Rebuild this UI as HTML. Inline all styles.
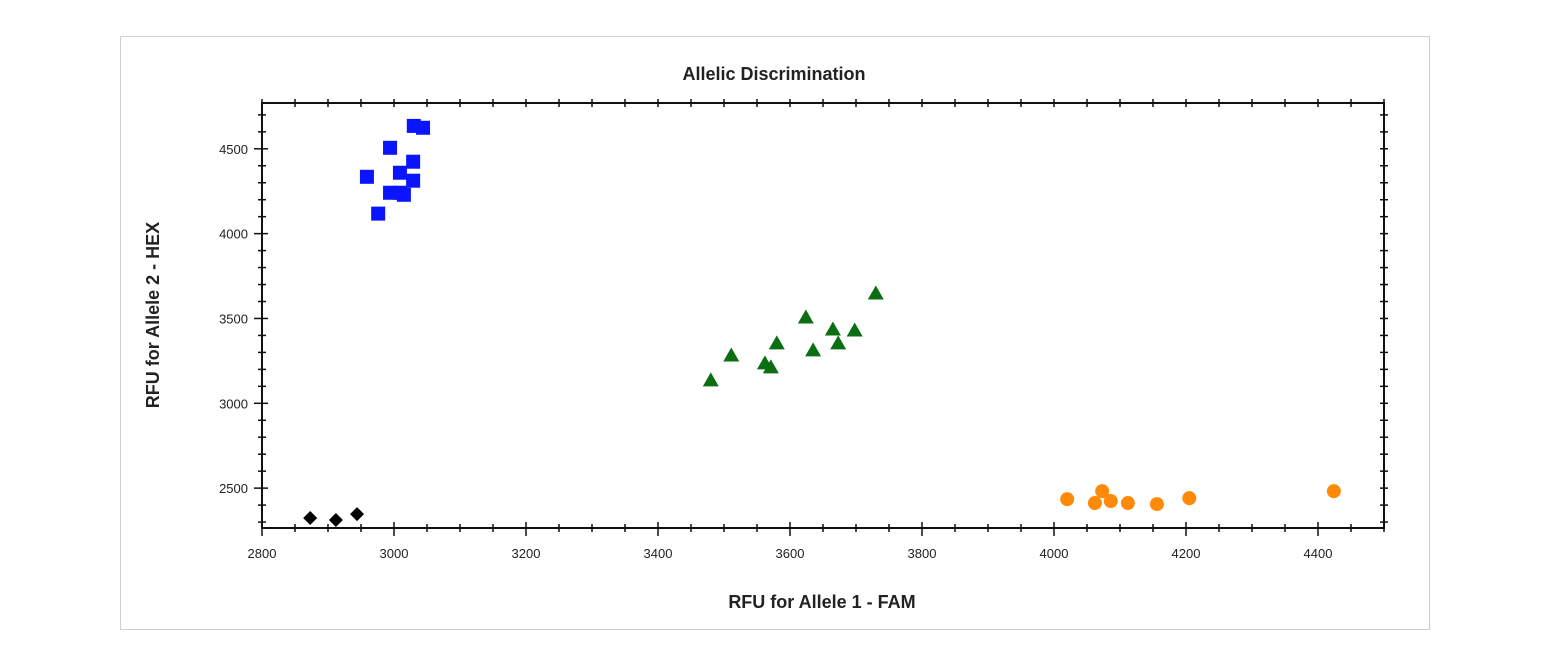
<!DOCTYPE html>
<html><head><meta charset="utf-8"><style>
html,body{margin:0;padding:0;background:#fff;}
svg{display:block;font-family:"Liberation Sans",Arial,sans-serif;}
</style></head><body>
<svg id="chart" width="1545" height="657">
<rect x="120.5" y="36.5" width="1309" height="593" fill="#fff" stroke="#cfcfcf"/>
<text x="774" y="80" text-anchor="middle" font-size="18" font-weight="bold" fill="#222">Allelic Discrimination</text>
<text x="822" y="608" text-anchor="middle" font-size="18" font-weight="bold" fill="#222">RFU for Allele 1 - FAM</text>
<text transform="translate(159,315) rotate(-90)" text-anchor="middle" font-size="18" font-weight="bold" fill="#222">RFU for Allele 2 - HEX</text>
<g id="axes"></g>
<g id="marks"></g>
</svg>
<script>
const xTicks = [2800,3000,3200,3400,3600,3800,4000,4200,4400];
const yTicks = [2500,3000,3500,4000,4500];
const blueX = [3030,3044,2994,2959,3029,3009,3029,2994,3009,3015,2976];
const blueY = [4635,4624,4506,4335,4424,4359,4312,4241,4241,4229,4118];
const greenX = [3480,3511,3562,3580,3571,3624,3635,3673,3665,3698,3730];
const greenY = [3135,3282,3235,3353,3212,3506,3312,3353,3435,3429,3647];
const orangeX = [4020,4062,4073,4086,4112,4156,4205,4424];
const orangeY = [2435,2412,2482,2424,2412,2406,2441,2482];
const blackX = [2873,2912,2944];
const blackY = [2324,2312,2347];

const X0=262,X1=1384,XMIN=2800,XMAX=4500;
const Y0=528,Y1=103,YMIN=2265,YMAX=4770;
const sx=v=>X0+(v-XMIN)/(XMAX-XMIN)*(X1-X0);
const sy=v=>Y0-(v-YMIN)/(YMAX-YMIN)*(Y0-Y1);
const NS="http://www.w3.org/2000/svg";
const axes=document.getElementById('axes'), marks=document.getElementById('marks');
function mk(tag,attrs,parent){const e=document.createElementNS(NS,tag);for(const k in attrs)e.setAttribute(k,attrs[k]);parent.appendChild(e);return e;}

const frame=mk('rect',{x:X0,y:Y1,width:X1-X0,height:Y0-Y1,fill:'none',stroke:'#111','stroke-width':2},axes);


// minor ticks x every 50
for(let v=XMIN;v<=XMAX;v+=50){
  const major=xTicks.includes(v);
  const t=mk('line',{x1:sx(v),x2:sx(v),y1:Y0-(major?6:4),y2:Y0+(major?8:4),stroke:'#111','stroke-width':1.5},axes);
  
  
  const t2=mk('line',{x1:sx(v),x2:sx(v),y1:Y1-4,y2:Y1+4,stroke:'#111','stroke-width':1.5},axes);
  
  
}
for(let v=2300;v<=4700;v+=100){
  const major=yTicks.includes(v);
  const t=mk('line',{x1:X0-(major?8:4),x2:X0+(major?6:4),y1:sy(v),y2:sy(v),stroke:'#111','stroke-width':1.5},axes);
  
  
  const t2=mk('line',{x1:X1-4,x2:X1+4,y1:sy(v),y2:sy(v),stroke:'#111','stroke-width':1.5},axes);
  
  
}
xTicks.forEach(v=>{const t=mk('text',{x:sx(v),y:Y0+30,'text-anchor':'middle','font-size':13,fill:'#222'},axes);t.textContent=v;
  
  });
yTicks.forEach(v=>{const t=mk('text',{x:X0-14,y:sy(v)+5,'text-anchor':'end','font-size':13,fill:'#222'},axes);t.textContent=v;
  
  });

blueX.forEach((v,i)=>{const cx=sx(v),cy=sy(blueY[i]);
  const m=mk('rect',{x:cx-7,y:cy-7,width:14,height:14,fill:'#0a14ff'},marks);
  
  });
greenX.forEach((v,i)=>{const cx=sx(v),cy=sy(greenY[i]);
  const m=mk('polygon',{points:`${cx},${cy-8} ${cx+8},${cy+6} ${cx-8},${cy+6}`,fill:'#0c6e12'},marks);
  
  });
orangeX.forEach((v,i)=>{const cx=sx(v),cy=sy(orangeY[i]);
  const m=mk('circle',{cx:cx,cy:cy,r:7,fill:'#ff8a0a'},marks);
  
  });
blackX.forEach((v,i)=>{const cx=sx(v),cy=sy(blackY[i]);
  const m=mk('polygon',{points:`${cx},${cy-7} ${cx+7},${cy} ${cx},${cy+7} ${cx-7},${cy}`,fill:'#000'},marks);
  
  });
</script>
</body></html>
